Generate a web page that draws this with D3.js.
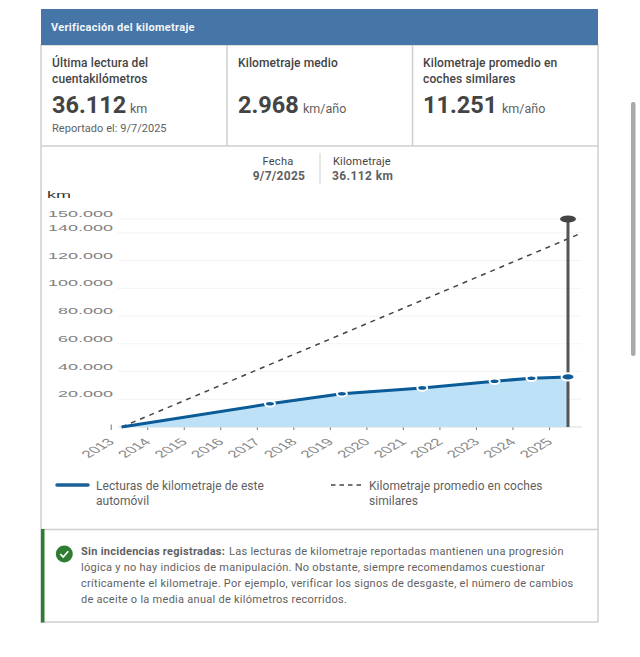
<!DOCTYPE html>
<html>
<head>
<meta charset="utf-8">
<script src="https://cdn.jsdelivr.net/npm/d3@7"></script>
<style>
html, body { margin: 0; padding: 0; background: #fff; overflow: hidden; }
svg { display: block; }
text { font-family: Roboto, sans-serif; }
</style>
</head>
<body>
<svg id="chart" width="640" height="657"></svg>
<script>
// readings of this car: decimal year and km
var readingYears = [2013.3, 2017.36, 2019.33, 2021.53, 2023.51, 2024.52, 2025.52];
var readingKm = [0, 16800, 24000, 28200, 33000, 35200, 36112];
// average of similar cars, straight line between two ends
var avgYears = [2013.3, 2025.86];
var avgKm = [0, 139500];
var yearTicks = d3.range(2013, 2026);
var kmTicks = [20000, 40000, 60000, 80000, 100000, 120000, 140000, 150000];

var stats = [
	{ x: 52, lines: ["Última lectura del", "cuentakilómetros"], value: "36.112", unit: "km", unitX: 130 },
	{ x: 238, lines: ["Kilometraje medio"], value: "2.968", unit: "km/año", unitX: 303 },
	{ x: 423, lines: ["Kilometraje promedio en", "coches similares"], value: "11.251", unit: "km/año", unitX: 502 }
];
var alertLines = [
	"Las lecturas de kilometraje reportadas mantienen una progresión",
	"lógica y no hay indicios de manipulación. No obstante, siempre recomendamos cuestionar",
	"críticamente el kilometraje. Por ejemplo, verificar los signos de desgaste, el número de cambios",
	"de aceite o la media anual de kilómetros recorridos."
];

var svg = d3.select("#chart");
var textColor = "#444", soft = "#5f5f5f", border = "#cfcfcf";

function label(x, y, str, size, weight, fill, spacing) {
	return svg.append("text").attr("x", x).attr("y", y).text(str)
		.attr("font-size", size).attr("font-weight", weight || 400)
		.attr("fill", fill || textColor).attr("letter-spacing", spacing || 0);
}
function rule(x1, y1, x2, y2, color, w) {
	svg.append("line").attr("x1", x1).attr("y1", y1).attr("x2", x2).attr("y2", y2)
		.attr("stroke", color || border).attr("stroke-width", w || 1.5);
}

// scrollbar
svg.append("rect").attr("x", 631).attr("y", 102).attr("width", 4.5).attr("height", 254).attr("rx", 2).attr("fill", "#a9a9a9");

// card frame and header
svg.append("rect").attr("x", 41).attr("y", 45).attr("width", 557).attr("height", 577)
	.attr("fill", "#fff").attr("stroke", border).attr("stroke-width", 1.5);
svg.append("rect").attr("x", 41).attr("y", 9).attr("width", 557).attr("height", 36).attr("fill", "#4675a8");
label(51, 31, "Verificación del kilometraje", 11, 700, "#f2f5f9", 0.3);

rule(41, 146, 598, 146);
rule(227, 45, 227, 146);
rule(412.5, 45, 412.5, 146);
rule(41, 529.5, 598, 529.5);

stats.forEach(function(s) {
	s.lines.forEach(function(l, i) { label(s.x, 67 + i * 15.5, l, 12, 500, textColor, 0.12); });
	label(s.x, 113, s.value, 23.5, 700, textColor, 0);
	label(s.unitX, 113, s.unit, 12.5, 400, soft);
});
label(52, 132, "Reportado el: 9/7/2025", 11, 400, soft, 0.03);

// selected reading box
label(278, 165, "Fecha", 11, 400, textColor, 0.3).attr("text-anchor", "middle");
label(279, 180, "9/7/2025", 12, 700, soft, 0.3).attr("text-anchor", "middle");
rule(320, 153, 320, 184, "#cfcfcf", 1);
label(333, 165, "Kilometraje", 11, 400, textColor, 0.2);
label(332, 180, "36.112 km", 12, 700, soft, 0.4);

// chart, text is stretched wide in the source picture
var stretch = 2;
var x = d3.scaleLinear().domain([2013, 2025]).range([110.7, 549]);
var y = d3.scaleLinear().domain([0, 150000]).range([427, 219]);
var esFormat = d3.formatLocale({ decimal: ",", thousands: ".", grouping: [3], currency: ["", ""] }).format(",d");

var xAxis = d3.axisBottom(x).tickValues(yearTicks).tickFormat(d3.format("d")).tickSize(5.5).tickPadding(0);
var gx = svg.append("g").attr("transform", "translate(0,424.5)").call(xAxis);
gx.select(".domain").remove();
gx.selectAll("line").attr("stroke", "#777").attr("stroke-width", 1);
gx.selectAll("text")
	.attr("y", 0).attr("dy", 0).attr("text-anchor", "end")
	.attr("transform", "translate(4,18) scale(1.7,1) rotate(-45)")
	.attr("font-size", 10).attr("fill", "#888").style("font-family", "'Liberation Sans'");

var yAxis = d3.axisLeft(y).tickValues(kmTicks).tickFormat(esFormat).tickSize(0).tickPadding(0);
var gy = svg.append("g").attr("transform", "translate(113,0)").call(yAxis);
gy.select(".domain").remove();
gy.selectAll("text")
	.attr("x", 0).attr("dy", "-0.28em")
	.attr("transform", "scale(" + stretch + ",1)")
	.attr("font-size", 9).attr("fill", "#808080").style("font-family", "'Liberation Sans'");

svg.selectAll(".grid").data([0].concat(kmTicks)).enter().append("line").attr("class", "grid")
	.attr("x1", 118).attr("x2", 582)
	.attr("y1", function(d) { return y(d); }).attr("y2", function(d) { return y(d); })
	.attr("stroke", function(d) { return d === 0 ? "#dcdcdc" : "#f3f3f3"; }).attr("stroke-width", 1);

svg.append("text").attr("transform", "translate(47,198) scale(" + stretch + ",1)").text("km")
	.attr("font-size", 9).attr("fill", "#333").style("font-family", "'Liberation Sans'");

var readings = readingYears.map(function(d, i) { return [d, readingKm[i]]; });
var area = d3.area().x(function(d) { return x(d[0]); }).y0(y(0)).y1(function(d) { return y(d[1]); });
var line = d3.line().x(function(d) { return x(d[0]); }).y(function(d) { return y(d[1]); });

svg.append("path").attr("d", area(readings)).attr("fill", "#bde1f6");

svg.append("path").attr("d", line(avgYears.map(function(d, i) { return [d, avgKm[i]]; })))
	.attr("fill", "none").attr("stroke", "#444").attr("stroke-width", 1.5).attr("stroke-dasharray", "5 5");

// marker line on last reading
var lastX = x(readingYears[readingYears.length - 1]);
svg.append("line").attr("x1", lastX).attr("x2", lastX).attr("y1", y(150000)).attr("y2", y(0))
	.attr("stroke", "#555").attr("stroke-width", 3);
svg.append("ellipse").attr("cx", lastX).attr("cy", y(150000)).attr("rx", 8).attr("ry", 3.5).attr("fill", "#444");

svg.append("path").attr("d", line(readings)).attr("fill", "none").attr("stroke", "#0a5b97").attr("stroke-width", 3);

svg.selectAll(".pt").data(readings.slice(1)).enter().append("ellipse").attr("class", "pt")
	.attr("cx", function(d) { return x(d[0]); }).attr("cy", function(d) { return y(d[1]); })
	.attr("rx", function(d, i) { return i === 5 ? 6.5 : 5; }).attr("ry", function(d, i) { return i === 5 ? 3.6 : 2.8; })
	.attr("fill", "#0a5b97").attr("stroke", "#fff").attr("stroke-width", 2);

// legend
svg.append("line").attr("x1", 57).attr("x2", 88).attr("y1", 485).attr("y2", 485)
	.attr("stroke", "#1b6096").attr("stroke-width", 3.5).attr("stroke-linecap", "round");
label(96, 490, "Lecturas de kilometraje de este", 12, 400, soft, 0.05);
label(96, 505, "automóvil", 12, 400, soft, 0.05);
svg.append("line").attr("x1", 331).attr("x2", 364).attr("y1", 485).attr("y2", 485)
	.attr("stroke", "#444").attr("stroke-width", 1.6).attr("stroke-dasharray", "4.5 4");
label(369, 490, "Kilometraje promedio en coches", 12, 400, soft, 0.05);
label(369, 505, "similares", 12, 400, soft, 0.05);

// no incidents note
svg.append("rect").attr("x", 41).attr("y", 529).attr("width", 3.5).attr("height", 93.5).attr("fill", "#2e7d32");
svg.append("circle").attr("cx", 64.3).attr("cy", 554).attr("r", 8.5).attr("fill", "#2e7d32");
svg.append("path").attr("d", d3.line()([[60.3, 554], [63.2, 557], [68.3, 551.2]]))
	.attr("fill", "none").attr("stroke", "#fff").attr("stroke-width", 1.7);

label(81, 555, "Sin incidencias registradas:", 11, 700, soft, 0.27);
alertLines.forEach(function(l, i) {
	if (i === 0) {
		label(229, 555, l, 11, 400, soft, 0.27);
	} else {
		label(81, 555 + i * 16, l, 11, 400, soft, 0.27);
	}
});
</script>
</body>
</html>
